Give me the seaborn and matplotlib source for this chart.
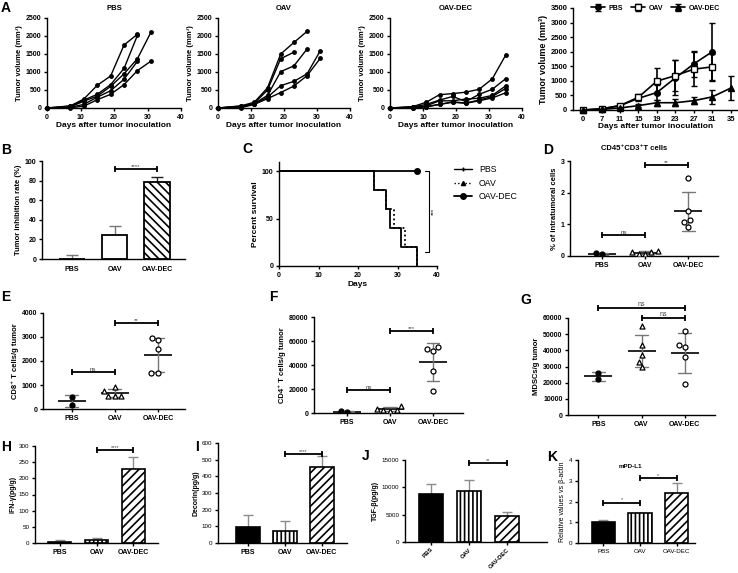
import numpy as np
import pandas as pd
import matplotlib
matplotlib.use('Agg')
import matplotlib.pyplot as plt
from matplotlib.lines import Line2D
import seaborn as sns

sns.set_theme(style='ticks')
plt.rcParams['font.family'] = ['Liberation Sans', 'DejaVu Sans']
plt.rcParams.update({
    'font.weight': 'bold', 'axes.labelweight': 'bold',
    'axes.linewidth': 1.0, 'xtick.major.width': 1.0, 'ytick.major.width': 1.0,
    'xtick.major.size': 2.5, 'ytick.major.size': 2.5,
    'xtick.major.pad': 1.5, 'ytick.major.pad': 1.5,
    'axes.labelpad': 2, 'hatch.linewidth': 1.2,
    'axes.edgecolor': 'black', 'xtick.color': 'black', 'ytick.color': 'black',
    'text.color': 'black', 'axes.labelcolor': 'black',
})

W, H = 738, 573
groups = ['PBS', 'OAV', 'OAV-DEC']

# A: individual tumour volumes (mm3) per mouse
days = [0, 7, 11, 15, 19, 23, 27, 31, 35]
pbs_mice = [
    [0, 60, 250, 630, 890, 1750, 2050],
    [0, 50, 220, 380, 650, 1100, 2020],
    [0, 30, 190, 330, 600, 950, 1370, 2100],
    [0, 20, 100, 300, 480, 800, 1300],
    [0, 10, 50, 230, 380, 650, 1040, 1300],
]
oav_mice = [
    [0, 60, 160, 560, 1500, 1820, 2130],
    [0, 50, 130, 500, 1370, 1550],
    [0, 40, 120, 350, 1010, 1170, 1640],
    [0, 30, 110, 300, 620, 740, 950, 1590],
    [0, 10, 100, 260, 430, 610, 900, 1380],
]
dec_mice = [
    [0, 40, 160, 370, 400, 440, 520, 810, 1460],
    [0, 30, 100, 220, 320, 180, 380, 520, 810],
    [0, 20, 60, 200, 200, 250, 270, 350, 610],
    [0, 10, 40, 100, 170, 140, 220, 320, 540],
    [0, 5, 30, 100, 160, 130, 200, 280, 420],
]
# A (right): mean +- SD
pbs_mean = [0, 40, 150, 400, 600, 1100, 1580, 2000]
pbs_sd = [0, 20, 60, 100, 250, 600, 450, 1000]
oav_mean = [0, 40, 150, 440, 990, 1180, 1400, 1480]
oav_sd = [0, 20, 50, 100, 450, 520, 580, 450]
dec_mean = [0, 20, 70, 150, 250, 250, 320, 450, 750]
dec_sd = [0, 10, 30, 60, 100, 120, 130, 230, 420]

# B: tumour inhibition rate
b_mean = [0, 24, 79]
b_sd = [4, 10, 5]

# C: survival
pbs_t = [0, 24, 27, 28, 31, 35]
oav_t = [0, 24, 27, 29, 32, 35]
surv_pct = [100, 80, 60, 40, 20, 0]
dec_t = [0, 35]
dec_s = [100, 100]

# D-G: individual values
d_vals = {'PBS': [0.05, 0.09], 'OAV': [0.17, 0.13, 0.12, 0.06, 0.07],
          'OAV-DEC': [2.47, 1.43, 1.13, 1.08, 0.93]}
e_vals = {'PBS': [520, 170], 'OAV': [920, 770, 560, 560, 560],
          'OAV-DEC': [2950, 2880, 2480, 1520, 1500]}
f_vals = {'PBS': [800, 1300], 'OAV': [6000, 3500, 2500, 2000, 2500],
          'OAV-DEC': [55000, 53000, 52000, 35000, 18500]}
g_vals = {'PBS': [26000, 22000], 'OAV': [55000, 43000, 37000, 33000, 29500],
          'OAV-DEC': [52000, 43500, 42000, 36000, 19000]}

# H-K: cytokines / western
h_mean, h_sd = [3, 8, 230], [5, 9, 37]
i_mean, i_sd = [98, 75, 455], [72, 60, 70]
j_mean, j_sd = [8800, 9400, 4800], [1800, 1900, 700]
k_mean, k_sd = [1.0, 1.43, 2.42], [0.1, 0.0, 0.45]

fig = plt.figure(figsize=(W / 100, H / 100), dpi=100)


def panel(l, t, r, b):
    return fig.add_axes([l / W, 1 - b / H, (r - l) / W, (b - t) / H])


def letter(x, y, s):
    fig.text(x / W, 1 - y / H, s, fontsize=10, fontweight='bold', ha='center', va='center')


def bracket(ax, x1, x2, y, label, size=4.5, color='#444444'):
    ax.plot([x1, x2], [y, y], color='black', lw=1.3, marker='|', ms=5, mew=1.3, clip_on=False)
    ax.text((x1 + x2) / 2, y, label, ha='center', va='bottom', fontsize=size,
            fontweight='normal', color=color)


def growth(ax, mice, title):
    rows = [(i, d, v) for i, vols in enumerate(mice) for d, v in zip(days, vols)]
    df = pd.DataFrame(rows, columns=['mouse', 'day', 'volume'])
    sns.lineplot(data=df, x='day', y='volume', units='mouse', estimator=None, color='black',
                 lw=1, marker='o', markersize=3.5, markeredgewidth=0, ax=ax)
    for ln in ax.lines:
        ln.set_clip_on(False)
    ax.set(xlim=(0, 40), ylim=(0, 2500), xticks=range(0, 41, 10), yticks=range(0, 2501, 500))
    ax.set_title(title, fontsize=5.5, fontweight='bold', pad=6)
    ax.set_xlabel('Days after tumor inoculation', fontsize=6, labelpad=1)
    ax.set_ylabel('Tumor volume (mm³)', fontsize=5.5, labelpad=2)
    ax.tick_params(labelsize=5)
    sns.despine(ax=ax)


growth(panel(47, 18, 181, 108), pbs_mice, 'PBS')
growth(panel(218, 18, 350, 108), oav_mice, 'OAV')
growth(panel(390, 18, 522, 108), dec_mice, 'OAV-DEC')

# A right: mean +- SD
ax = panel(573, 8, 738, 110)
idx = np.arange(len(days))
ax.errorbar(idx[:len(pbs_mean)], pbs_mean, yerr=pbs_sd, fmt='-o', color='black', ms=4, lw=1.2,
            capsize=2, elinewidth=1.2, label='PBS')
ax.errorbar(idx[:len(oav_mean)], oav_mean, yerr=oav_sd, fmt='-s', color='black', mfc='white',
            ms=4, lw=1.2, capsize=2, elinewidth=1.2, label='OAV')
ax.errorbar(idx, dec_mean, yerr=dec_sd, fmt='-^', color='black', ms=4, lw=1.2,
            capsize=2, elinewidth=1.2, label='OAV-DEC')
for ln in ax.lines:
    ln.set_clip_on(False)
ax.set(xlim=(-0.55, 8.4), ylim=(0, 3500), xticks=idx, yticks=range(0, 3501, 500))
ax.set_xticklabels(days)
ax.tick_params(labelsize=5.5)
ax.set_xlabel('Days after tumor inoculation', fontsize=6, labelpad=0)
ax.set_ylabel('Tumor volume (mm³)', fontsize=6.5, labelpad=2)
ax.legend(ncol=3, loc='center', bbox_to_anchor=(0.5, 1.0), frameon=False, fontsize=5,
          handlelength=2, columnspacing=1.2, handletextpad=0.5, borderaxespad=0)
sns.despine(ax=ax)

# B
ax = panel(42, 161, 185, 259)
sns.barplot(x=groups, y=b_mean, color='white', edgecolor='black', linewidth=1.3, width=0.6,
            errorbar=None, ax=ax)
ax.patches[2].set_hatch('\\\\\\\\')
for i, ec in enumerate(['#777777', '#777777', '#222222']):
    ax.errorbar([i], [b_mean[i]], yerr=[[0], [b_sd[i]]], fmt='none', ecolor=ec,
                capsize=4, elinewidth=1, capthick=1, zorder=0)
bracket(ax, 1, 2, 92, '****')
ax.set(xlim=(-0.71, 2.66), ylim=(0, 100), yticks=range(0, 101, 20))
ax.set_ylabel('Tumor inhibition rate (%)', fontsize=5.5)
ax.tick_params(labelsize=5)
ax.tick_params(axis='x', length=0, pad=5)
sns.despine(ax=ax)

# C
ax = panel(279, 161.5, 437, 266)
sns.lineplot(x=pbs_t, y=surv_pct, drawstyle='steps-post', color='black', lw=1.3, ax=ax)
sns.lineplot(x=oav_t, y=surv_pct, drawstyle='steps-post', color='black', lw=1.3,
             linestyle=(0, (1, 1.5)), ax=ax)
sns.lineplot(x=dec_t, y=dec_s, color='black', lw=1.3, ax=ax)
ax.plot(dec_t[-1:], dec_s[-1:], 'o', color='black', ms=4, clip_on=False)
ax.plot([37, 38, 38, 37], [100, 100, 15, 15], color='black', lw=0.8, clip_on=False)
ax.text(39.2, 57, '***', rotation=90, fontsize=4.5, fontweight='normal', ha='center', va='center')
ax.set(xlim=(0, 40), ylim=(0, 110), xticks=range(0, 41, 10), yticks=[0, 50, 100])
ax.set_xlabel('Days', fontsize=6)
ax.set_ylabel('Percent survival', fontsize=6)
ax.tick_params(labelsize=5)
handles = [Line2D([], [], color='black', lw=1, marker='+', ms=3),
           Line2D([], [], color='black', lw=1, linestyle=':', marker='^', ms=3),
           Line2D([], [], color='black', lw=1.3, marker='o', ms=4)]
ax.legend(handles, groups, loc='upper left', bbox_to_anchor=(1.06, 1.04), frameon=False,
          prop={'weight': 'normal', 'size': 6.3}, handlelength=2, labelspacing=0.5)
sns.despine(ax=ax)


def scatter_panel(ax, vals, ylim, yticks, ylabel):
    df = pd.DataFrame([(g, v) for g in groups for v in vals[g]], columns=['group', 'value'])
    styles = {'PBS': ('o', 'black'), 'OAV': ('^', 'white'), 'OAV-DEC': ('o', 'white')}
    for g in groups:
        m, c = styles[g]
        sns.swarmplot(data=df[df.group == g], x='group', y='value', order=groups, marker=m,
                      color=c, edgecolor='black', linewidth=0.9, size=3.6, ax=ax, zorder=3)
    sns.pointplot(data=df, x='group', y='value', order=groups, errorbar='sd', color='black',
                  markers='_', markersize=20, markeredgewidth=1.2, linestyle='none', capsize=0.3,
                  err_kws={'linewidth': 1, 'color': '#777777'}, ax=ax)
    ax.set(ylim=ylim, yticks=yticks, xlabel='')
    ax.set_ylabel(ylabel, fontsize=5.5)
    ax.tick_params(labelsize=5)
    sns.despine(ax=ax)


# D
ax = panel(570, 161, 718, 256)
scatter_panel(ax, d_vals, (0, 3), [0, 1, 2, 3], '% of intratumoral cells')
ax.set_xlim(-0.74, 2.69)
ax.set_title('CD45⁺CD3⁺T cells', fontsize=5.5, fontweight='bold', pad=8, x=0.43)
bracket(ax, 0, 1, 0.65, 'ns')
bracket(ax, 1, 2, 2.88, '**')

# E
ax = panel(43, 313, 185, 409)
scatter_panel(ax, e_vals, (0, 4000), range(0, 4001, 1000), 'CD8⁺ T cells/g tumor')
ax.set_xlim(-0.67, 2.63)
bracket(ax, 0, 1, 1540, 'ns')
bracket(ax, 1, 2, 3580, '**')

# F
ax = panel(314, 317, 463, 413)
scatter_panel(ax, f_vals, (0, 80000), range(0, 80001, 20000), 'CD4⁺ T cells/g tumor')
ax.set_xlim(-0.77, 2.7)
bracket(ax, 0, 1, 19500, 'ns')
bracket(ax, 1, 2, 68000, '***')

# G
ax = panel(568, 318, 715, 415)
scatter_panel(ax, g_vals, (0, 60000), range(0, 60001, 10000), 'MDSCs/g tumor')
ax.set_xlim(-0.7, 2.7)
bracket(ax, 1, 2, 60000, 'ns', size=5)
bracket(ax, 0, 2, 66000, 'ns', size=5)


def cyto_panel(ax, means, sds, ylim, yticks, ylabel, fill):
    sns.barplot(x=groups, y=means, color='white', edgecolor='black', linewidth=1.2, width=0.63,
                errorbar=None, ax=ax)
    ax.patches[0].set_facecolor(fill)
    ax.patches[1].set_hatch('||||')
    ax.patches[2].set_hatch('////')
    ax.errorbar(range(3), means, yerr=[[0, 0, 0], sds], fmt='none', ecolor='#8c8c8c',
                capsize=3.5, elinewidth=1, capthick=1, zorder=0)
    ax.set(ylim=ylim, yticks=yticks)
    ax.set_ylabel(ylabel, fontsize=5)
    ax.tick_params(axis='y', labelsize=4.5)
    ax.tick_params(axis='x', labelsize=5, length=2.5)
    for t in ax.get_yticklabels():
        t.set_fontweight('normal')
    sns.despine(ax=ax)


# H
ax = panel(35, 446, 158, 543)
cyto_panel(ax, h_mean, h_sd, (0, 300), range(0, 301, 50), 'IFN-γ(pg/g)', 'black')
ax.set_xlim(-0.68, 2.68)
bracket(ax, 1, 2, 287, '****', size=4)

# I
ax = panel(218, 443, 347, 543)
cyto_panel(ax, i_mean, i_sd, (0, 600), range(0, 601, 100), 'Decorin(pg/g)', 'black')
ax.set_xlim(-0.81, 2.68)
bracket(ax, 1, 2, 535, '****', size=4)

# J
ax = panel(405, 460, 547, 542)
cyto_panel(ax, j_mean, j_sd, (0, 15000), range(0, 15001, 5000), 'TGF-β(pg/g)', 'black')
ax.set_xlim(-0.68, 3.05)
ax.set_xticks(range(3))
ax.set_xticklabels(groups, rotation=45, ha='right', rotation_mode='anchor', fontsize=4.3)
ax.tick_params(axis='x', pad=1)
bracket(ax, 1, 2, 14450, '**', size=4)

# K
ax = panel(578, 460, 695, 543)
cyto_panel(ax, k_mean, k_sd, (0, 4), range(0, 5), 'Relative values vs β-actin', 'black')
ax.set_xlim(-0.69, 2.5)
ax.yaxis.label.set_fontweight('normal')
ax.tick_params(axis='x', labelsize=4.5)
for t in ax.get_xticklabels():
    t.set_fontweight('normal')
ax.text(0.45, 0.9, 'mPD-L1', transform=ax.transAxes, fontsize=4.5, fontweight='bold', ha='center')
bracket(ax, 0, 1, 1.95, '*', size=4)
bracket(ax, 1, 2, 3.15, '*', size=4)

for s, x, y in [('A', 6, 8), ('B', 6, 150), ('C', 247, 149), ('D', 548, 150), ('E', 6, 297),
                ('F', 273, 297), ('G', 526, 300), ('H', 6, 447), ('I', 197, 447), ('J', 366, 456),
                ('K', 552, 457)]:
    letter(x, y, s)

fig.savefig('out.png', dpi=100)
